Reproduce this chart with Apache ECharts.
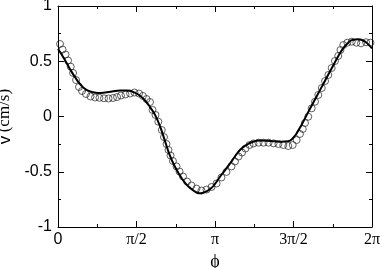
<!DOCTYPE html>
<html>
<head>
<meta charset="utf-8">
<script src="https://cdn.jsdelivr.net/npm/echarts@6/dist/echarts.min.js"></script>
<style>
  html, body { margin: 0; padding: 0; background: #fff; }
  #chart { width: 382px; height: 268px; }
</style>
</head>
<body>
<div id="chart"></div>
<script>
// phi in units of pi
const measPhi = [0.013, 0.029, 0.048, 0.064, 0.081, 0.096, 0.115, 0.134, 0.153, 0.178,
  0.207, 0.236, 0.264, 0.293, 0.322, 0.350, 0.376, 0.401, 0.430, 0.459,
  0.487, 0.516, 0.541, 0.564, 0.586, 0.602, 0.621, 0.639, 0.661, 0.675,
  0.691, 0.704, 0.717, 0.732, 0.755, 0.774, 0.796, 0.822, 0.850, 0.882,
  0.914, 0.946, 0.978, 1.010, 1.041, 1.073, 1.105, 1.127, 1.150, 1.172,
  1.194, 1.220, 1.245, 1.277, 1.309, 1.341, 1.373, 1.404, 1.435, 1.467,
  1.495, 1.520, 1.541, 1.559, 1.573, 1.594, 1.616, 1.637, 1.658, 1.680,
  1.701, 1.722, 1.743, 1.764, 1.785, 1.799, 1.817, 1.843, 1.871, 1.900,
  1.930, 1.962, 1.990];
const measV = [0.656, 0.606, 0.561, 0.507, 0.451, 0.394, 0.330, 0.267, 0.231, 0.204,
  0.181, 0.172, 0.169, 0.165, 0.163, 0.167, 0.176, 0.190, 0.199, 0.208,
  0.217, 0.208, 0.186, 0.158, 0.131, 0.060, 0.014, -0.047, -0.122, -0.186,
  -0.249, -0.303, -0.353, -0.403, -0.452, -0.498, -0.543, -0.588, -0.624, -0.652,
  -0.670, -0.661, -0.638, -0.606, -0.552, -0.502, -0.452, -0.407, -0.362, -0.326,
  -0.290, -0.258, -0.244, -0.237, -0.237, -0.237, -0.243, -0.249, -0.258, -0.267,
  -0.258, -0.213, -0.158, -0.113, -0.059, -0.002, 0.074, 0.134, 0.195, 0.258,
  0.321, 0.376, 0.439, 0.502, 0.548, 0.602, 0.647, 0.668, 0.677, 0.668,
  0.662, 0.672, 0.668];

const fitPhi = [0, 0.025, 0.051, 0.076, 0.108, 0.140, 0.178, 0.217, 0.255, 0.299,
  0.344, 0.395, 0.439, 0.478, 0.516, 0.554, 0.586, 0.618, 0.650, 0.682,
  0.713, 0.745, 0.777, 0.809, 0.841, 0.873, 0.898, 0.924, 0.949, 0.975,
  1.000, 1.032, 1.064, 1.096, 1.127, 1.159, 1.197, 1.242, 1.287, 1.331,
  1.376, 1.420, 1.465, 1.497, 1.529, 1.561, 1.592, 1.624, 1.656, 1.688,
  1.720, 1.752, 1.783, 1.815, 1.847, 1.879, 1.911, 1.943, 1.975, 2.0];
const fitV = [0.611, 0.557, 0.493, 0.430, 0.357, 0.294, 0.244, 0.222, 0.213, 0.217,
  0.226, 0.235, 0.235, 0.222, 0.195, 0.145, 0.085, 0.015, -0.090, -0.225,
  -0.355, -0.455, -0.535, -0.600, -0.645, -0.680, -0.695, -0.690, -0.675, -0.650,
  -0.610, -0.545, -0.485, -0.424, -0.362, -0.303, -0.260, -0.228, -0.218, -0.219,
  -0.224, -0.228, -0.225, -0.195, -0.130, -0.050, 0.035, 0.120, 0.205, 0.290,
  0.375, 0.460, 0.540, 0.615, 0.665, 0.695, 0.698, 0.688, 0.655, 0.615];

const xTickLabels = { 0: '0', 0.5: 'π/2', 1: 'π', 1.5: '3π/2', 2: '2π' };

const chart = echarts.init(document.getElementById('chart'));

const sans = 'Liberation Sans, Arial, sans-serif';
const serif = 'Liberation Serif, Times New Roman, serif';
const lineStyle = { color: '#000', width: 1 };

const xCommon = {
  type: 'value', min: 0, max: 2, interval: 0.5,
  axisLine: { show: true, onZero: false, lineStyle },
  axisTick: { show: true, inside: true, length: 6, lineStyle },
  minorTick: { show: true, splitNumber: 2, length: 3, lineStyle },
  splitLine: { show: false }
};
const yCommon = {
  type: 'value', min: -1, max: 1, interval: 0.5,
  axisLine: { show: true, onZero: false, lineStyle },
  axisTick: { show: true, inside: true, length: 6, lineStyle },
  minorTick: { show: true, splitNumber: 2, length: 3, lineStyle },
  splitLine: { show: false }
};

chart.setOption({
  animation: false,
  backgroundColor: '#fff',
  grid: { left: 58, right: 10, top: 6, bottom: 41, outerBoundsMode: 'none', containLabel: false },
  xAxis: [
    Object.assign({}, xCommon, {
      position: 'bottom',
      name: 'ϕ', nameLocation: 'middle', nameGap: 24,
      nameTextStyle: { fontFamily: serif, fontSize: 18, color: '#000' },
      axisLabel: {
        margin: 5, color: '#000', fontSize: 16, fontFamily: serif,
        formatter: v => {
          const s = xTickLabels[v];
          if (s === undefined) return '';
          if (s === '0') return '{s|0}';
          return s;
        },
        rich: { s: { fontFamily: sans, fontSize: 16, color: '#000' } }
      }
    }),
    Object.assign({}, xCommon, { position: 'top', axisLabel: { show: false } })
  ],
  yAxis: [
    Object.assign({}, yCommon, {
      position: 'left',
      axisLabel: { margin: 6, color: '#000', fontSize: 16, fontFamily: sans },
      name: '{a|v} {b|(cm/s)}', nameLocation: 'middle', nameGap: 35, nameRotate: 90,
      nameTextStyle: {
        rich: {
          a: { fontFamily: sans, fontSize: 17, color: '#000' },
          b: { fontFamily: serif, fontSize: 17, color: '#000' }
        }
      }
    }),
    Object.assign({}, yCommon, { position: 'right', axisLabel: { show: false } })
  ],
  series: [
    {
      type: 'scatter',
      data: measPhi.map((p, i) => [p, measV[i]]),
      symbol: 'circle', symbolSize: 7,
      itemStyle: { color: 'transparent', borderColor: '#222', borderWidth: 0.9 },
      z: 2
    },
    {
      type: 'line',
      data: fitPhi.map((p, i) => [p, fitV[i]]),
      smooth: true, showSymbol: false,
      lineStyle: { color: '#000', width: 2 },
      z: 3
    }
  ]
});
</script>
</body>
</html>
